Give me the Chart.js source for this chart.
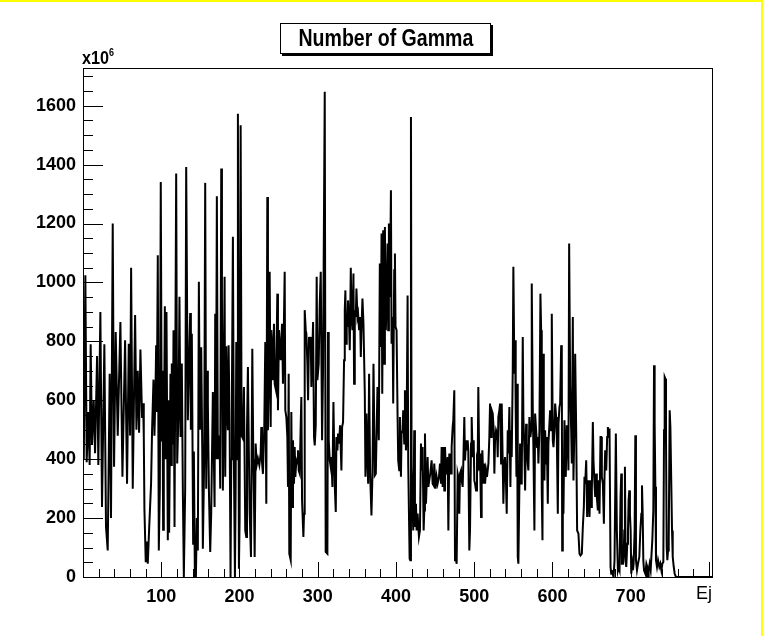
<!DOCTYPE html>
<html lang="en">
<head>
    <meta charset="UTF-8">
    <title>Number of Gamma</title>
    <style>
        body {
            margin: 0;
            background-color: #fff;
        }
        .wrap {
            position: relative;
            width: 763px;
            height: 636px;
            box-sizing: border-box;
            border-top: 2px solid #ffff00;
            border-right: 2px solid #ffff00;
        }
        #gammaChart {
            position: absolute;
            left: 0;
            top: 0;
        }
        .title-box {
            position: absolute;
            left: 280px;
            top: 21px;
            width: 209px;
            height: 29px;
            border: 1px solid #000;
            box-shadow: 2px 2px 0 #000;
            background: #fff;
            text-align: center;
            white-space: nowrap;
            overflow: hidden;
        }
        .title-box span {
            display: inline-block;
            font: bold 23px "Liberation Sans", Arial, sans-serif;
            line-height: 29px;
            transform: scaleX(0.85);
        }
        .y-mult {
            position: absolute;
            left: 82px;
            top: 45px;
            font: bold 18px "Liberation Sans", Arial, sans-serif;
            transform: scaleX(0.9);
            transform-origin: left top;
        }
        .y-mult sup {
            font-size: 10px;
            vertical-align: 8px;
        }
        .x-name {
            position: absolute;
            left: 696px;
            top: 581px;
            font: 18px "Liberation Sans", Arial, sans-serif;
        }
    </style>
</head>
<body>

    <div class="wrap">
        <canvas id="gammaChart" width="763" height="636"></canvas>
        <div class="title-box"><span>Number of Gamma</span></div>
        <div class="y-mult">x10<sup>6</sup></div>
        <div class="x-name">Ej</div>
    </div>

    <script src="https://cdn.jsdelivr.net/npm/chart.js"></script>
    <script>
        // Ej positions of the histogram contour and the counts there (x10^6)
        const ej = [
            0.3, 1.0, 3.0, 4.7, 6.8, 8.5, 9.8, 11.5, 13.7, 15.4, 18.0, 19.6, 22.2, 24.3, 27.3, 29.4,
            31.6, 34.1, 35.8, 38.0, 39.7, 41.8, 44.4, 47.8, 50.4, 53.8, 56.3, 58.5, 60.2, 61.5, 63.6,
            66.6, 68.3, 70.0, 71.7, 73.4, 75.5, 76.8, 77.7, 78.5, 80.2, 82.0, 82.8, 84.5, 87.0, 88.3,
            90.1, 91.3, 92.6, 93.5, 94.3, 95.6, 96.9, 98.2, 99.4, 100.7, 101.6, 102.4, 103.3, 104.6,
            105.4, 106.7, 108.4, 109.3, 110.1, 111.8, 112.7, 113.5, 114.8, 115.7, 117.0, 119.1, 120.4,
            122.1, 123.3, 124.6, 126.3, 127.6, 128.9, 130.6, 131.9, 134.0, 135.3, 137.0, 137.9, 139.1,
            140.8, 141.7, 143.0, 144.3, 145.5, 146.8, 148.1, 149.4, 150.2,
            151.1, 152.4, 153.2, 154.9, 156.2, 157.5, 158.8, 159.6, 160.9, 162.6, 163.9, 166.0, 168.2,
            169.0, 169.9, 171.1, 172.4, 174.6, 175.4, 176.7, 177.6, 178.8, 181.0, 181.8, 183.1, 184.4,
            185.2, 186.1, 187.4, 188.6, 189.5, 190.4, 191.6, 192.9, 194.2, 195.1, 195.9, 197.2, 198.0,
            199.3, 200.2, 201.5, 202.7, 204.4, 205.7, 207.4, 208.7, 209.6, 210.8, 212.1, 213.0, 214.7,
            216.4, 217.7, 218.5, 219.4, 220.7, 222.0, 223.6, 225.4, 227.1,
            227.9, 228.8, 230.0, 231.7, 233.0, 234.3, 235.6, 236.4, 237.3, 238.6, 239.9, 240.7, 242.0,
            242.8, 244.1, 245.0, 246.7, 248.4, 249.2, 250.5, 252.7, 254.4, 255.6, 257.8, 258.6, 259.9,
            261.2, 262.0, 262.9, 263.7, 265.5, 266.3, 267.2, 268.4, 269.7, 270.6, 271.4, 272.7, 274.0,
            274.8, 275.7, 277.0, 278.3, 279.1, 280.0, 281.7, 282.5, 283.4, 284.7, 285.5, 286.8, 287.7,
            288.9, 289.8, 291.1, 291.9, 294.1, 295.3, 296.2, 297.5, 298.7, 299.6, 301.3, 302.6, 303.9,
            305.6, 306.8, 309.0, 310.2, 312.4, 313.2, 314.1, 315.4, 316.6, 317.5, 318.8, 320.1, 321.8,
            323.1, 323.9, 325.2, 326.0, 327.3, 328.6, 330.3, 331.2, 332.4, 333.7, 334.6, 335.4, 336.3,
            337.1, 338.0, 338.8, 340.1, 341.0, 342.3, 343.1, 344.4, 345.7, 346.5, 347.4, 348.7, 349.5,
            350.8, 351.6, 352.9, 354.2, 355.1, 355.9, 357.2, 358.5, 360.2, 361.0, 362.3, 363.6, 364.5,
            365.7, 367.0, 368.7, 370.0, 371.3, 373.0, 374.3, 376.4, 378.1, 379.4, 380.7,
            381.6, 382.5, 383.7, 385.0, 385.9, 387.1, 388.4, 389.3, 390.1, 391.0, 392.3, 393.6, 394.4,
            395.7, 396.5, 397.8, 398.7, 399.5, 400.8, 402.1, 402.9, 404.2, 405.1, 406.4, 407.2, 408.5,
            409.3, 410.6, 411.5, 412.8, 413.6, 414.9, 415.7, 417.5, 418.3, 419.2, 420.0, 421.3, 422.1,
            423.4, 424.3, 425.6, 426.4, 427.7, 429.4, 430.7, 432.0, 432.8, 434.1, 435.4, 436.2, 437.1,
            438.4, 439.6, 440.5, 441.4, 442.6, 443.9, 445.6, 446.9, 448.2, 449.0, 450.7, 452.0, 453.3,
            455.0, 456.3, 457.6,
            458.4, 459.7, 461.0, 461.8, 462.7, 464.0, 464.8, 466.1, 467.0, 468.2, 469.1, 470.4, 471.2,
            472.5, 473.3, 474.6, 475.5, 476.3, 477.6, 478.9, 479.7, 481.0, 481.9, 483.2, 484.0, 485.3,
            486.1, 487.4, 488.3, 489.6, 490.4, 491.7, 492.5, 493.8, 494.7, 496.0, 496.8, 498.1, 499.4,
            500.2, 501.1, 502.4, 503.6, 504.5, 505.3, 506.6, 507.5, 508.8, 509.6, 510.5, 511.8, 513.0,
            513.9, 515.2, 516.4, 518.2, 519.4, 520.3, 521.6, 522.4, 523.7, 525.0, 525.8, 526.7, 528.0,
            529.2, 530.1, 530.9, 532.2, 533.1, 534.4,
            535.2, 536.5, 537.3, 538.6, 539.5, 540.7, 541.6, 542.9, 543.7, 545.0, 546.3, 547.2, 548.0,
            549.3, 550.1, 551.4, 552.3, 553.1, 554.0, 554.8, 555.7, 556.5, 557.8, 558.7, 560.0, 560.8,
            562.1, 562.9, 564.2, 565.1, 566.4, 567.2, 568.5, 569.3, 570.6, 571.9, 572.8, 573.6, 574.9,
            575.7, 577.0, 577.9, 579.2, 580.4, 581.3, 582.1, 583.4, 584.7, 585.6, 586.4, 587.3, 588.1,
            589.0, 589.8, 590.7, 592.0, 592.8, 594.1, 594.9, 596.2, 597.1, 598.4, 599.2, 600.5, 601.4,
            602.6, 603.5, 604.8, 605.6, 606.9, 607.8, 609.0, 609.9, 611.2, 612.0,
            612.5, 613.3, 614.1, 615.4, 616.3, 617.1, 618.4, 619.7, 620.5, 621.4, 622.7, 624.0, 624.8,
            626.1, 626.9, 628.2, 629.1, 630.4, 631.6, 633.3, 634.6, 635.9, 637.6, 638.9, 640.2, 641.0,
            641.9, 643.2, 644.4, 645.3, 646.1, 647.4, 648.7, 649.6, 650.4, 651.7, 652.5, 653.8, 654.7,
            656.0, 656.8, 658.1, 658.9, 660.2, 661.5, 662.4, 663.2, 664.5, 665.8, 666.6, 667.5, 668.8,
            670.0, 670.9, 671.8, 673.0, 674.3, 675.2, 676.0, 676.9, 678.2, 679.4, 681.1, 682.4, 683.7,
            684.6, 685.8, 687.1, 688.0, 688.8,
            690.2, 691.0, 691.9, 692.7, 693.6, 694.4, 695.7, 696.6, 697.4, 698.3, 699.1, 700.0, 700.8,
            702.1, 703.0, 703.8, 705.1, 706.0, 706.8, 708.1, 709.4, 711.1, 712.4, 713.7, 714.5, 715.4,
            716.2, 717.1, 718.8, 720.1, 721.3, 722.2, 723.0, 724.3, 725.6, 726.5, 727.7, 729.0, 729.9,
            730.7, 731.6, 732.4, 733.7, 735.0, 736.7, 738.0, 739.3, 740.5, 741.8, 742.7, 743.5, 744.4,
            745.2, 746.1, 746.9, 747.8, 748.7, 749.9, 750.8, 752.1, 752.9, 753.8, 755.1, 756.3, 758.0,
            804.0
        ];

        const nGamma = [
            720, 400, 1024, 390, 560, 380, 790, 450, 600, 420, 750, 380, 900, 238, 790, 170,
            90, 690, 200, 1200, 374, 832, 480, 866, 340, 804, 317, 792, 480, 1050, 300,
            889, 500, 700, 490, 772, 540, 590, 480, 232, 50, 120, 45, 160, 317, 500,
            670, 480, 620, 787, 560, 1092, 90, 300, 1341, 460, 700, 160, 400, 919,
            400, 900, 125, 600, 150, 690, 380, 725, 450, 838, 170, 1370, 385,
            560, 951, 475, 725, 300, 0, 300, 1392, 532, 700, 896, 500, 826,
            113, 426, 0, 0, 200, 90, 1002, 500, 540,
            780, 440, 96, 400, 1338, 300, 700, 590, 300, 85, 220, 628, 238,
            894, 400, 1293, 400, 480, 300, 1387, 951, 294, 1019, 340, 783, 550,
            498, 787, 520, 0, 400, 656, 1155, 390, 0, 300, 798, 400, 1573,
            28, 200, 1534, 480, 470, 645, 158, 136, 500, 713, 400, 221, 68,
            775, 400, 270, 68, 453, 380, 402, 380, 420,
            509, 390, 350, 509, 798, 249, 1290, 498, 645, 1036, 509, 838, 770,
            668, 860, 656, 634, 962, 566, 838, 736, 860, 656, 1036, 566, 543,
            475, 306, 690, 79, 57, 560, 238, 464, 317, 441, 340, 396, 385,
            430, 362, 351, 520, 611, 260, 136, 215, 906, 838, 826, 724, 600,
            815, 787, 815, 645, 866, 475, 447, 515, 1019, 668, 724, 928, 1036,
            464, 700, 1647, 85, 79, 832, 464, 396, 374, 407, 306, 594, 311,
            221, 475, 430, 487, 453, 515, 362, 509, 526, 736, 906, 973, 792,
            894, 849, 939, 860, 770, 1050, 894, 838, 1030, 656, 906, 883, 979,
            883, 894, 838, 883, 747, 838, 945, 860, 622, 340, 555, 385, 317,
            690, 351, 209, 351, 724, 345, 351, 645, 464, 1064, 781,
            1166, 622, 1177, 724, 1188, 838, 973, 1132, 838, 1200, 951, 1313, 792,
            883, 589, 1041, 1098, 849, 838, 543, 396, 362, 543, 340, 487, 498,
            566, 453, 634, 430, 475, 956, 385, 62, 57, 1562, 374, 238, 158,
            498, 170, 249, 158, 215, 136, 158, 453, 362, 441, 158, 226, 487,
            249, 340, 407, 306, 328, 351, 396, 317, 311, 385, 300, 340, 317,
            340, 385, 317,
            441, 306, 441, 294, 441, 351, 362, 407, 158, 419, 385, 351, 441,
            509, 532, 634, 57, 68, 45, 351, 340, 215, 351, 362, 328, 306,
            385, 543, 396, 464, 430, 464, 430, 90, 158, 453, 543, 407, 464,
            328, 317, 294, 396, 385, 645, 362, 419, 204, 396, 430, 317, 385,
            317, 362, 340, 385, 475, 589, 475, 566, 555, 498, 351, 464, 498,
            487, 407, 543, 566, 589, 385,
            589, 385, 249, 385, 407, 317, 215, 498, 419, 577, 306, 498, 407,
            702, 1053, 690, 804, 566, 340, 656, 68, 45, 306, 453, 317, 328,
            815, 543, 430, 294, 520, 453, 385, 362, 543, 475, 498, 996, 577,
            441, 158, 555, 498, 441, 475, 385, 498, 962, 838, 294, 125, 758,
            441, 328, 498, 385, 475, 249, 453, 520, 566, 498, 894, 464, 441,
            498, 589, 543, 487, 215, 520, 577, 589, 787, 770,
            90, 272, 215, 532, 407, 340, 515, 464, 362, 1132, 645, 498, 385,
            883, 328, 520, 758, 498, 158, 147, 79, 73, 79, 170, 238, 340,
            317, 396, 204, 204, 328, 204, 328, 238, 294, 526, 396, 317, 272,
            351, 272, 226, 328, 215, 475, 475, 340, 317, 181, 340, 430, 362,
            475, 509, 475, 504, 34, 11, 23, 11, 0, 57, 487, 158, 23,
            34, 23, 272, 351, 45,
            45, 68, 158, 374, 51, 34, 113, 158, 260, 294, 215, 158, 11,
            45, 23, 45, 158, 481, 57, 23, 45, 68, 158, 215, 311, 215,
            57, 23, 11, 45, 34, 0, 23, 45, 23, 68, 125, 226, 719,
            520, 306, 57, 34, 57, 34, 45, 23, 45, 51, 498, 679, 673,
            475, 102, 57, 90, 125, 566, 509, 294, 158, 68, 34, 11, 0,
            0
        ];

        // axis range and labelled ticks
        const xRange = [0, 804];
        const yRange = [0, 1728];
        const xLabels = [100, 200, 300, 400, 500, 600, 700];
        const yLabels = [0, 200, 400, 600, 800, 1000, 1200, 1400, 1600];

        const labelFont = { family: '"Liberation Sans", Arial, sans-serif', size: 18, weight: 'bold' };

        // ROOT style frame with inward tick marks
        const frameTicks = {
            id: 'frameTicks',
            afterDraw(chart) {
                const { ctx, chartArea: a, scales: { x, y } } = chart;
                ctx.save();
                ctx.strokeStyle = '#000';
                ctx.lineWidth = 1;
                ctx.beginPath();
                for (let v = 0; v <= xRange[1]; v += 20) {
                    const px = Math.round(x.getPixelForValue(v)) + 0.5;
                    const len = v % 100 === 0 ? 15 : 8;
                    ctx.moveTo(px, a.bottom);
                    ctx.lineTo(px, a.bottom - len);
                }
                for (let v = 0; v <= yRange[1]; v += 50) {
                    const py = Math.round(y.getPixelForValue(v)) + 0.5;
                    const len = v % 200 === 0 ? 20 : 10;
                    ctx.moveTo(a.left, py);
                    ctx.lineTo(a.left + len, py);
                }
                ctx.stroke();
                ctx.strokeRect(Math.round(a.left) + 0.5, Math.round(a.top) + 0.5,
                    Math.round(a.right - a.left), Math.round(a.bottom - a.top));
                ctx.restore();
            }
        };

        function renderChart() {
            const points = ej.map((e, i) => ({ x: e, y: nGamma[i] }));
            const ctx = document.getElementById('gammaChart').getContext('2d');
            new Chart(ctx, {
                type: 'line',
                data: {
                    datasets: [{
                        label: 'Number of Gamma',
                        data: points,
                        borderColor: '#000',
                        borderWidth: 2,
                        pointRadius: 0,
                        fill: false,
                        tension: 0
                    }]
                },
                options: {
                    responsive: false,
                    animation: false,
                    devicePixelRatio: 1,
                    layout: { padding: { left: 0, top: 66, right: 51, bottom: 0 } },
                    plugins: {
                        legend: { display: false },
                        tooltip: { enabled: false }
                    },
                    scales: {
                        x: {
                            type: 'linear',
                            min: xRange[0],
                            max: xRange[1],
                            grid: { display: false, drawTicks: false },
                            border: { display: false },
                            afterBuildTicks: s => { s.ticks = xLabels.map(v => ({ value: v })); },
                            afterFit: s => { s.height = 61; },
                            ticks: {
                                color: '#000',
                                font: labelFont,
                                padding: 9,
                                maxRotation: 0,
                                autoSkip: false,
                                callback: v => String(v)
                            }
                        },
                        y: {
                            min: yRange[0],
                            max: yRange[1],
                            grid: { display: false, drawTicks: false },
                            border: { display: false },
                            afterBuildTicks: s => { s.ticks = yLabels.map(v => ({ value: v })); },
                            afterFit: s => { s.width = 83; },
                            ticks: {
                                color: '#000',
                                font: labelFont,
                                padding: 7,
                                callback: v => String(v)
                            }
                        }
                    }
                },
                plugins: [frameTicks]
            });
        }

        document.addEventListener('DOMContentLoaded', renderChart);
    </script>

</body>
</html>
